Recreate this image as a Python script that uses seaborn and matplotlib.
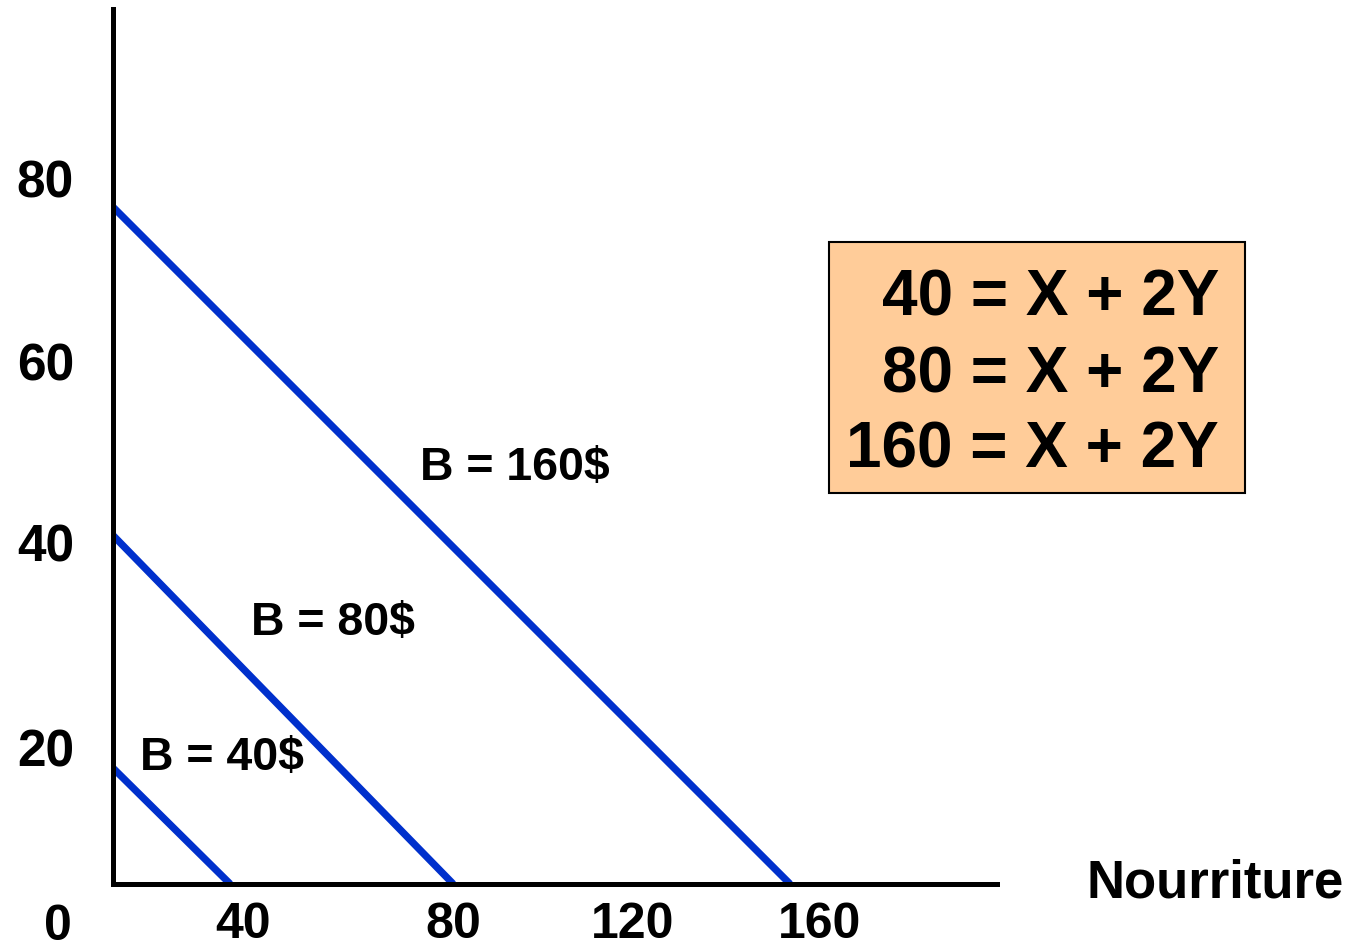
import numpy as np
import pandas as pd
import matplotlib
matplotlib.use("Agg")
import matplotlib.pyplot as plt
from matplotlib.patches import Rectangle
import seaborn as sns

# budget lines (X = Nourriture, Y = other good)
budgets = ["B = 40$", "B = 80$", "B = 160$"]
x_start = [0, 0, 0]
y_start = [13.7, 41.2, 80]
x_end = [27.7, 80.4, 160]
y_end = [0, 0, 0]

# tick labels as they sit in the picture
xtick_pos = [30.7, 80.4, 122.7, 167]
xtick_lab = ["40", "80", "120", "160"]
ytick_pos = [16.1, 40.3, 61.8, 83.4]
ytick_lab = ["20", "40", "60", "80"]

equations = ["40 = X + 2Y", "80 = X + 2Y", "160 = X + 2Y"]
xlabel = "Nourriture"

rows = []
for b, x0, y0, x1, y1 in zip(budgets, x_start, y_start, x_end, y_end):
    rows.append({"budget": b, "x": x0, "y": y0})
    rows.append({"budget": b, "x": x1, "y": y1})
df = pd.DataFrame(rows)

sns.set_style("white")
plt.rcParams["font.family"] = ["Liberation Sans", "DejaVu Sans"]
plt.rcParams["font.weight"] = "bold"
plt.rcParams["text.color"] = "black"
plt.rcParams["xtick.color"] = "black"
plt.rcParams["ytick.color"] = "black"

W, H = 1351, 949
fig = plt.figure(figsize=(W / 100, H / 100), dpi=100)
ax = fig.add_axes([113 / W, (H - 884) / H, (997 - 113) / W, (884 - 9) / H])

sns.lineplot(data=df, x="x", y="y", hue="budget", palette=["#0030CC"] * 3,
             estimator=None, sort=False, legend=False, linewidth=5.2,
             solid_capstyle="butt", ax=ax)

ax.set_xlim(0, 208.9)
ax.set_ylim(0, 103.4)
for s in ["top", "right"]:
    ax.spines[s].set_visible(False)
for s in ["left", "bottom"]:
    ax.spines[s].set_linewidth(3.6)
    ax.spines[s].set_color("black")

# x labels sit right at the bottom edge, as in the slide
ax.set_xticks(xtick_pos)
ax.set_xticklabels(xtick_lab, fontsize=36, fontweight="bold", color="black")
ax.set_yticks(ytick_pos)
ax.set_yticklabels(ytick_lab, fontsize=37, fontweight="bold", color="black")
ax.tick_params(axis="x", length=0, pad=13)
ax.tick_params(axis="y", length=0, pad=28)
ax.set_xlabel("")
ax.set_ylabel("")

# "0" at the corner
fig.text(58 / W, 1 - 940 / H, "0", fontsize=36, fontweight="bold",
         ha="center", va="baseline")

# axis title
fig.text(1087 / W, 1 - 897 / H, xlabel, fontsize=38, fontweight="bold",
         ha="left", va="baseline")

# budget labels
lab_px = [(140, 770), (251, 635), (420, 480)]
for b, (px, py) in zip(budgets, lab_px):
    fig.text(px / W, 1 - py / H, b, fontsize=33.5, fontweight="bold",
             ha="left", va="baseline")

# equation box
fig.patches.append(Rectangle((829 / W, 1 - 493 / H), (1245 - 829) / W, (493 - 242) / H,
                             transform=fig.transFigure, facecolor="#FFCC99",
                             edgecolor="black", linewidth=1.5, zorder=0))
for eq, base in zip(equations, [315, 392, 468]):
    fig.text(1219 / W, 1 - base / H, eq, fontsize=46, fontweight="bold",
             ha="right", va="baseline")

fig.savefig("out.png", dpi=100)
